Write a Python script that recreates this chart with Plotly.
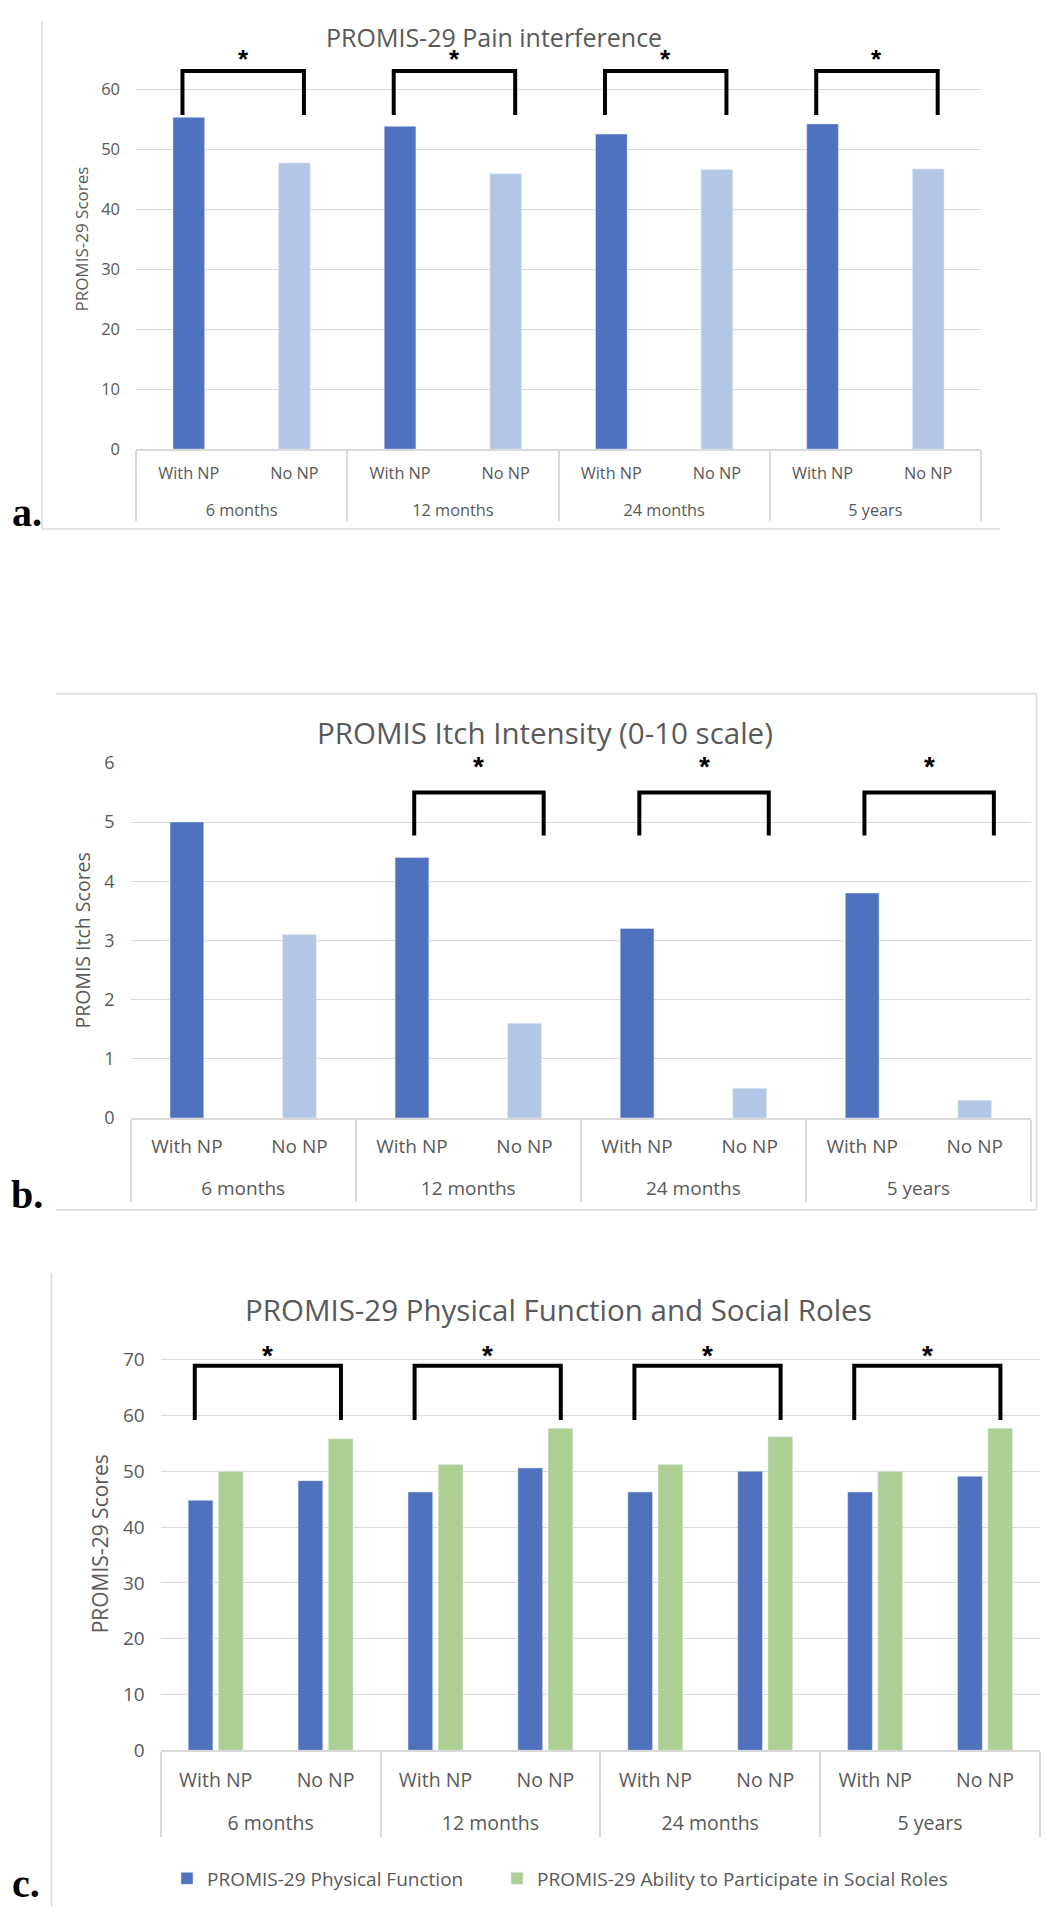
import plotly.graph_objects as go

W, H = 1050, 1920
PAGE_PAD = 8  # default <body> margin of the written html page

GROUPS = ["6 months", "12 months", "24 months", "5 years"]
SUBGROUPS = ["With NP", "No NP"]

# a. PROMIS-29 pain interference
PAIN_WITH_NP = [55.3, 53.8, 52.5, 54.2]
PAIN_NO_NP = [47.7, 45.9, 46.6, 46.7]
PAIN_SIG = [True, True, True, True]
PAIN_TICKS = [0, 10, 20, 30, 40, 50, 60]

# b. PROMIS itch intensity
ITCH_WITH_NP = [5.0, 4.4, 3.2, 3.8]
ITCH_NO_NP = [3.1, 1.6, 0.5, 0.3]
ITCH_SIG = [False, True, True, True]
ITCH_TICKS = [0, 1, 2, 3, 4, 5, 6]

# c. physical function / social roles, order: 6m with, 6m no, 12m with, ...
PHYS_FUNCTION = [44.8, 48.3, 46.3, 50.6, 46.3, 50.0, 46.3, 49.1]
SOCIAL_ROLES = [50.0, 55.8, 51.2, 57.7, 51.2, 56.2, 50.0, 57.7]
PF_SIG = [True, True, True, True]
PF_TICKS = [0, 10, 20, 30, 40, 50, 60, 70]

BLUE = "#4F71BE"
LIGHT_BLUE = "#B4C6E6"
GREEN = "#AECF94"
GRID = "#D9D9D9"
TEXT = "#595959"
FONT = "Open Sans"


def px_x(v):
    return (v - PAGE_PAD) / W


def px_y(v):
    return 1 - (v - PAGE_PAD) / H


def interleave(a, b):
    return [v for pair in zip(a, b) for v in pair]


# group row gets a leading blank line so it sits lower, like the Excel axis
X_CAT = [["<br>" + g for g in GROUPS for _ in SUBGROUPS], [s for _ in GROUPS for s in SUBGROUPS]]
SUB_COLORS = [BLUE if s == "With NP" else LIGHT_BLUE for s in X_CAT[1]]

fig = go.Figure()

fig.add_trace(go.Bar(x=X_CAT, y=interleave(PAIN_WITH_NP, PAIN_NO_NP), marker_color=SUB_COLORS,
                     width=0.3, showlegend=False, xaxis="x", yaxis="y"))
fig.add_trace(go.Bar(x=X_CAT, y=interleave(ITCH_WITH_NP, ITCH_NO_NP), marker_color=SUB_COLORS,
                     width=0.3, showlegend=False, xaxis="x2", yaxis="y2"))
fig.add_trace(go.Bar(x=X_CAT, y=PHYS_FUNCTION, name="PROMIS-29 Physical Function",
                     marker_color=BLUE, width=0.225, offset=-0.25, legendwidth=285,
                     xaxis="x3", yaxis="y3"))
fig.add_trace(go.Bar(x=X_CAT, y=SOCIAL_ROLES, name="PROMIS-29 Ability to Participate in Social Roles",
                     marker_color=GREEN, width=0.225, offset=0.025, legendwidth=480,
                     xaxis="x3", yaxis="y3"))


def xaxis_style(domain, anchor, size, standoff):
    return dict(domain=domain, anchor=anchor, type="multicategory", showgrid=False,
                showline=True, linecolor=GRID, linewidth=1.5, zeroline=False,
                showdividers=True, dividercolor=GRID, dividerwidth=1.5,
                tickfont=dict(family=FONT, size=size, color=TEXT), ticklabelstandoff=standoff)


def yaxis_style(domain, anchor, rng, ticks, size, title, title_size):
    return dict(domain=domain, anchor=anchor, range=rng, tickvals=ticks, showgrid=True,
                gridcolor=GRID, gridwidth=1.3, zeroline=False, showline=False,
                tickfont=dict(family=FONT, size=size, color=TEXT), ticklabelstandoff=15,
                title=dict(text=title, standoff=8, font=dict(family=FONT, size=title_size, color=TEXT)))


fig.update_layout(
    width=W, height=H, margin=dict(l=0, r=0, t=0, b=0),
    paper_bgcolor="white", plot_bgcolor="white", barmode="group",
    font=dict(family=FONT, color=TEXT),
    xaxis=xaxis_style([px_x(136), px_x(981)], "y", 16.3, 9),
    yaxis=yaxis_style([px_y(442), px_y(442 - 70 * 6.083)], "x", [0, 70], PAIN_TICKS, 16.5,
                      "PROMIS-29 Scores", 17),
    xaxis2=xaxis_style([px_x(130.6), px_x(1031)], "y2", 19, 11),
    yaxis2=yaxis_style([px_y(1120), px_y(760)], "x2", [0, 6], ITCH_TICKS, 18,
                       "PROMIS Itch Scores", 19.5),
    xaxis3=xaxis_style([px_x(160.7), px_x(1040)], "y3", 19.5, 12),
    yaxis3=yaxis_style([px_y(1761), px_y(1761 - 74 * 5.657)], "x3", [0, 74], PF_TICKS, 19,
                       "PROMIS-29 Scores", 21),
    legend=dict(orientation="h", x=px_x(167), xanchor="left", y=px_y(1891), yanchor="middle",
                font=dict(family=FONT, size=19, color=TEXT), bgcolor="rgba(0,0,0,0)"),
)


def add_brackets(xref, yref, sig, top, foot, left_off, right_off, star_y, star_size):
    for g, is_sig in enumerate(sig):
        if not is_sig:
            continue
        xl = 2 * g + left_off
        xr = 2 * g + 1 + right_off
        fig.add_shape(type="path", xref=xref, yref=yref,
                      path=f"M{xl},{foot} L{xl},{top} L{xr},{top} L{xr},{foot}",
                      line=dict(color="black", width=4))
        fig.add_annotation(x=(xl + xr) / 2, y=star_y, xref=xref, yref=yref, text="<b>*</b>",
                           showarrow=False, yshift=-1,
                           font=dict(family="Liberation Sans", size=star_size, color="black"))


add_brackets("x", "y", PAIN_SIG, 63.0, 55.7, -0.06, 0.09, 65.2, 26)
add_brackets("x2", "y2", ITCH_SIG, 5.5, 4.77, 0.02, 0.17, 5.95, 28)
add_brackets("x3", "y3", PF_SIG, 68.9, 59.2, -0.19, 0.14, 71.0, 28)

# chart titles
for text, cx, cy, size in [("PROMIS-29 Pain interference", 493.5, 24, 25),
                           ("PROMIS Itch Intensity (0-10 scale)", 545, 729, 29.5),
                           ("PROMIS-29 Physical Function and Social Roles", 558.5, 1314, 29.5)]:
    fig.add_annotation(x=px_x(cx), y=px_y(cy), xref="paper", yref="paper", text=text,
                       showarrow=False, xanchor="center", yanchor="middle",
                       font=dict(family=FONT, size=size, color=TEXT))

# panel letters
for text, lx, base in [("a.", 10, 522), ("b.", 9, 1213), ("c.", 10, 1912)]:
    fig.add_annotation(x=px_x(lx), y=px_y(base + 9), xref="paper", yref="paper", text=f"<b>{text}</b>",
                       showarrow=False, xanchor="left", yanchor="bottom",
                       font=dict(family="Liberation Serif", size=40, color="black"))

# chart-area borders left over from the pasted screenshots
frame = dict(color=GRID, width=1.5)
for x0, y0, x1, y1 in [(42, 8, 42, 523), (42, 523, 1000, 523),
                       (56, 690, 1036.5, 690), (1036.5, 690, 1036.5, 1213), (56, 1213, 1036.5, 1213),
                       (51.5, 1277, 51.5, 1920)]:
    fig.add_shape(type="line", xref="paper", yref="paper", x0=px_x(x0), y0=px_y(y0),
                  x1=px_x(x1), y1=px_y(y1), line=frame)

fig.write_html("out.html")
